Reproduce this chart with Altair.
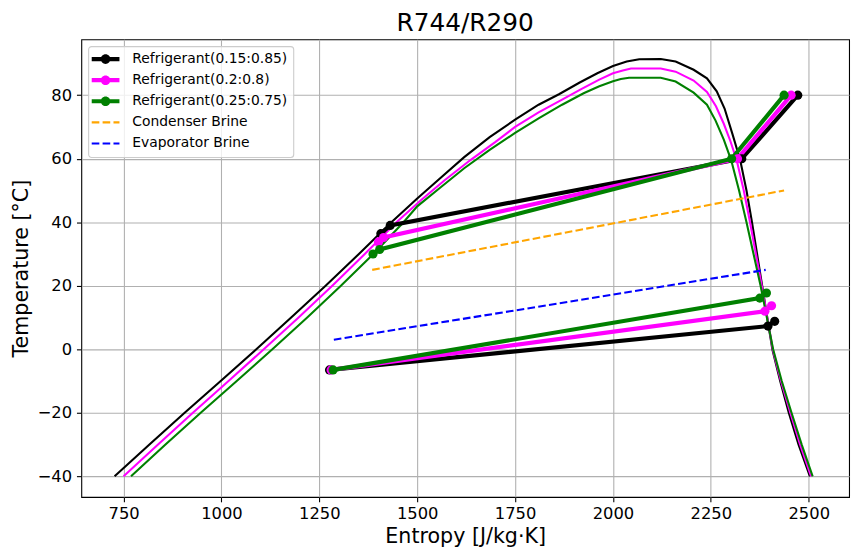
import altair as alt
import pandas as pd

# ---------------- data ----------------
names = ["Refrigerant(0.15:0.85)", "Refrigerant(0.2:0.8)", "Refrigerant(0.25:0.75)",
         "Condenser Brine", "Evaporator Brine"]
colors = ["black", "magenta", "green", "orange", "blue"]

# saturation domes (entropy, temperature)
dome1_s = [727, 816, 906, 998, 1089, 1178, 1266, 1351, 1434, 1500, 1560, 1620, 1685, 1750, 1810,
           1862, 1915, 1960, 2000, 2035, 2067, 2122, 2160, 2206, 2240, 2265, 2285, 2305, 2325, 2341,
           2355, 2368, 2381, 2394, 2407, 2427, 2449, 2474, 2503]
dome1_T = [-40, -30, -20, -10, 0, 10, 20, 30, 40, 47.5, 54, 60.5, 66.8, 72.3, 77,
           80.3, 84, 86.9, 89.2, 90.6, 91.3, 91.4, 90.6, 88, 85.3, 81.2, 75.8, 67.8, 59.5, 50,
           40, 30, 20, 10, 0, -10, -20, -30, -40]

dome2_s = [750, 838, 927, 1018, 1108, 1197, 1283, 1366, 1447, 1510, 1570, 1635, 1700, 1750, 1810,
           1870, 1920, 1965, 2000, 2025, 2046, 2122, 2160, 2206, 2240, 2263, 2283, 2300, 2316, 2334,
           2350, 2365, 2380, 2394, 2408, 2429, 2453, 2478, 2506]
dome2_T = [-40, -30, -20, -10, 0, 10, 20, 30, 40, 47, 53.2, 59.5, 65.3, 70, 74.6,
           78.6, 82, 84.9, 86.9, 87.8, 88.4, 88.4, 87.4, 84.6, 81, 76.5, 71, 65.5, 59.5, 50,
           40, 30, 20, 10, 0, -10, -20, -30, -40]

dome3_s = [769, 857, 947, 1039, 1130, 1219, 1305, 1388, 1465, 1500, 1560, 1620, 1685, 1750, 1810,
           1870, 1925, 1965, 2000, 2020, 2041, 2122, 2160, 2206, 2240, 2262, 2283, 2302, 2322, 2341,
           2359, 2377, 2393, 2409, 2431, 2456, 2482, 2510]
dome3_T = [-40, -30, -20, -10, 0, 10, 20, 30, 40, 45, 51, 57, 62.8, 68.1, 72.7,
           77, 80.6, 82.8, 84.4, 85.1, 85.5, 85.5, 84.3, 80.8, 77, 72, 66, 59.5, 50,
           40, 30, 20, 10, 0, -10, -20, -30, -40]

# cycle points: evaporation branch and compression/condensation branch
cyc1_evap_s = [1276, 2396, 2413]
cyc1_evap_T = [-6.5, 7.3, 8.8]
cyc1_cond_s = [2472, 2329, 1431, 1407]
cyc1_cond_T = [80, 60, 39, 36.4]

cyc2_evap_s = [1280, 2388, 2405]
cyc2_evap_T = [-6.5, 12, 13.7]
cyc2_cond_s = [2455, 2318, 1414, 1401]
cyc2_cond_T = [80, 60, 35.2, 33.8]

cyc3_evap_s = [1285, 2375, 2392]
cyc3_evap_T = [-6.5, 16.1, 17.7]
cyc3_cond_s = [2437, 2303, 1404, 1387]
cyc3_cond_T = [80, 60, 31.4, 30]

# brines
cond_brine_s = [1385, 2437]
cond_brine_T = [25, 50]
evap_brine_s = [1287, 2390]
evap_brine_T = [3, 25]

x_ticks = [750, 1000, 1250, 1500, 1750, 2000, 2250, 2500]
y_ticks = [-40, -20, 0, 20, 40, 60, 80]

# ---------------- tables ----------------
dome_rows = []
for name, ss, tt in [(names[0], dome1_s, dome1_T), (names[1], dome2_s, dome2_T), (names[2], dome3_s, dome3_T)]:
    for i, (s, t) in enumerate(zip(ss, tt)):
        dome_rows.append({"series": name, "i": i, "s": s, "T": t})
dome_df = pd.DataFrame(dome_rows)

cyc_rows = []
for name, es, et, cs, ct in [
    (names[0], cyc1_evap_s, cyc1_evap_T, cyc1_cond_s, cyc1_cond_T),
    (names[1], cyc2_evap_s, cyc2_evap_T, cyc2_cond_s, cyc2_cond_T),
    (names[2], cyc3_evap_s, cyc3_evap_T, cyc3_cond_s, cyc3_cond_T),
]:
    for i, (s, t) in enumerate(zip(es, et)):
        cyc_rows.append({"series": name, "seg": name + "_e", "i": i, "s": s, "T": t})
    for i, (s, t) in enumerate(zip(cs, ct)):
        cyc_rows.append({"series": name, "seg": name + "_c", "i": i, "s": s, "T": t})
cyc_df = pd.DataFrame(cyc_rows)

brine_rows = []
for name, ss, tt in [(names[3], cond_brine_s, cond_brine_T), (names[4], evap_brine_s, evap_brine_T)]:
    for i, (s, t) in enumerate(zip(ss, tt)):
        brine_rows.append({"series": name, "i": i, "s": s, "T": t})
brine_df = pd.DataFrame(brine_rows)

# ---------------- encodings ----------------
FONT = "DejaVu Sans"
x_enc = alt.X("s:Q", scale=alt.Scale(domain=[642, 2603], nice=False, zero=False),
              axis=alt.Axis(title="Entropy [J/kg·K]", values=x_ticks, format="d",
                            labelFontSize=16.5, titleFontSize=20.8, titleFontWeight="normal",
                            labelColor="black", titleColor="black", tickColor="black",
                            tickSize=4.9, tickWidth=1.1, labelPadding=4, titlePadding=5,
                            domain=False, grid=True, gridColor="#b0b0b0", gridWidth=1.1,
                            labelFont=FONT, titleFont=FONT))
y_enc = alt.Y("T:Q", scale=alt.Scale(domain=[-46.5, 97.6], nice=False, zero=False),
              axis=alt.Axis(title="Temperature [°C]", values=y_ticks, format="d",
                            labelFontSize=16.5, titleFontSize=20.8, titleFontWeight="normal",
                            labelColor="black", titleColor="black", tickColor="black",
                            tickSize=4.9, tickWidth=1.1, labelPadding=4.9, titlePadding=6,
                            domain=False, grid=True, gridColor="#b0b0b0", gridWidth=1.1,
                            labelFont=FONT, titleFont=FONT))
cscale = alt.Scale(domain=names, range=colors)

is_brine = "indexof(['Condenser Brine','Evaporator Brine'], datum.value) >= 0"
ref_path = "M-2,-0.3L2,-0.3L2,0.3L-2,0.3ZM0.69,0A0.69,0.69,0,1,1,-0.69,0A0.69,0.69,0,1,1,0.69,0Z"
brine_path = ("M-2,-0.15L-0.9,-0.15L-0.9,0.15L-2,0.15Z"
              "M-0.43,-0.15L0.67,-0.15L0.67,0.15L-0.43,0.15Z"
              "M1.14,-0.15L2,-0.15L2,0.15L1.14,0.15Z")

legend = alt.Legend(
    title=None, orient="top-left", offset=7, padding=6,
    fillColor="rgba(255,255,255,0.8)", strokeColor="#cccccc", cornerRadius=3,
    labelFont=FONT, labelFontSize=14, labelColor="black", labelLimit=400,
    symbolSize=196, symbolStrokeWidth=0, symbolOpacity=1,
    symbolType=alt.ExprRef(f"{is_brine} ? '{brine_path}' : '{ref_path}'"),
    symbolOffset=4.5, labelOffset=20, rowPadding=7.3,
)

# invisible carrier layer for the legend (first, so its legend settings win)
legend_carrier = alt.Chart(cyc_df).mark_circle(size=0, opacity=1).encode(
    x=x_enc, y=y_enc,
    color=alt.Color("series:N", scale=cscale, legend=legend),
)

domes = alt.Chart(dome_df).mark_line(strokeWidth=2.1).encode(
    x=x_enc, y=y_enc,
    color=alt.Color("series:N", scale=cscale),
    order=alt.Order("i:Q"),
)

brines = alt.Chart(brine_df).mark_line(strokeWidth=2.1, strokeDash=[7.7, 3.3]).encode(
    x=x_enc, y=y_enc,
    color=alt.Color("series:N", scale=cscale),
    order=alt.Order("i:Q"),
)

cyc_lines = alt.Chart(cyc_df).mark_line(strokeWidth=4.2).encode(
    x=x_enc, y=y_enc,
    color=alt.Color("series:N", scale=cscale),
    detail="seg:N",
    order=alt.Order("i:Q"),
)

cyc_points = alt.Chart(cyc_df).mark_circle(size=85, opacity=1).encode(
    x=x_enc, y=y_enc,
    color=alt.Color("series:N", scale=cscale),
)

chart = alt.layer(legend_carrier, domes, brines, cyc_lines, cyc_points).properties(
    width=775, height=462,
    padding={"left": 74, "top": 29, "right": 8, "bottom": 55},
    autosize=alt.AutoSizeParams(type="none"),
    title=alt.TitleParams("R744/R290", fontSize=25, font=FONT, fontWeight="normal",
                          anchor="middle", offset=3, color="black"),
).configure(font=FONT).configure_view(stroke="black", strokeWidth=1.1).configure_legend(strokeWidth=1.1)

chart.save("out.html", embed_options={"renderer": "svg", "actions": False})
